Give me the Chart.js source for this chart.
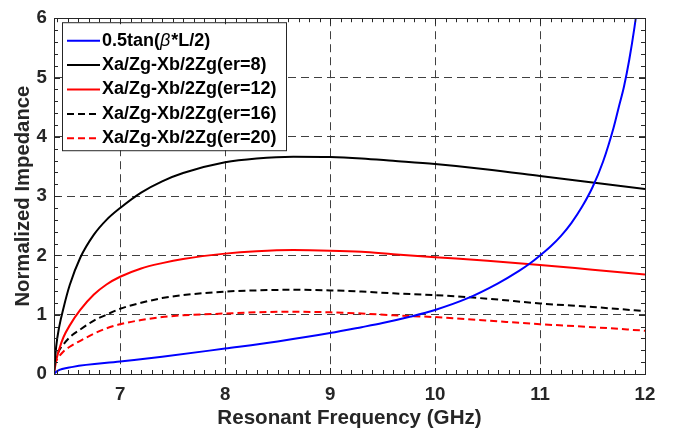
<!DOCTYPE html>
<html>
<head>
<meta charset="utf-8">
<script src="https://cdn.jsdelivr.net/npm/chart.js@4.4.1/dist/chart.umd.min.js"></script>
<style>
  html, body { margin: 0; padding: 0; background: #fff; }
  #wrap { width: 673px; height: 439px; }
</style>
</head>
<body>
<div id="wrap"><canvas id="impChart"></canvas></div>
<script>
// values
const freqTan = [6.37, 6.40, 6.55, 7.0, 7.4, 8.0, 8.5, 9.0, 9.3, 9.5, 9.77, 10.0, 10.3, 10.6, 10.8, 10.9, 11.0, 11.1, 11.2, 11.3, 11.4, 11.5, 11.6, 11.7, 11.75, 11.8, 11.85, 11.9, 11.95];
const valTan = [0.0, 0.05, 0.12, 0.21, 0.29, 0.43, 0.55, 0.69, 0.79, 0.86, 0.97, 1.08, 1.27, 1.53, 1.74, 1.86, 2.0, 2.15, 2.33, 2.55, 2.82, 3.15, 3.58, 4.15, 4.5, 4.85, 5.3, 5.85, 6.5];

const freqEr = [6.37, 6.39, 6.42, 6.46, 6.52, 6.62, 6.75, 6.87, 7.0, 7.2, 7.4, 7.6, 8.0, 8.3, 8.65, 9.0, 9.3, 9.6, 10.0, 10.5, 11.0, 11.5, 12.0];
const er8  = [0.0, 0.45, 0.8, 1.11, 1.5, 1.96, 2.35, 2.6, 2.80, 3.06, 3.25, 3.39, 3.57, 3.635, 3.665, 3.66, 3.635, 3.595, 3.54, 3.45, 3.34, 3.23, 3.12];
const er12 = [0.0, 0.22, 0.42, 0.62, 0.82, 1.08, 1.34, 1.51, 1.64, 1.78, 1.87, 1.94, 2.03, 2.07, 2.09, 2.08, 2.06, 2.02, 1.97, 1.91, 1.84, 1.76, 1.68];
const er16 = [0.18, 0.28, 0.4, 0.5, 0.62, 0.75, 0.9, 1.0, 1.1, 1.2, 1.28, 1.33, 1.39, 1.41, 1.42, 1.41, 1.39, 1.36, 1.33, 1.27, 1.19, 1.13, 1.06];
const er20 = [0.15, 0.22, 0.3, 0.38, 0.46, 0.56, 0.68, 0.77, 0.84, 0.91, 0.96, 0.99, 1.02, 1.04, 1.05, 1.04, 1.02, 0.99, 0.96, 0.9, 0.84, 0.79, 0.73];

const seriesLabels = ['0.5tan(\u03b2*L/2)', 'Xa/Zg-Xb/2Zg(er=8)', 'Xa/Zg-Xb/2Zg(er=12)', 'Xa/Zg-Xb/2Zg(er=16)', 'Xa/Zg-Xb/2Zg(er=20)'];
const xTicks = [7, 8, 9, 10, 11, 12];
const xMin = 6.37, xMax = 12, yMin = 0, yMax = 6;

const FONT = '"Liberation Sans", Arial, sans-serif';
const AXIS = '#262626';

function pts(xs, ys) {
    return xs.map((x, i) => ({ x: x, y: ys[i] }));
}

function series(label, xs, ys, color, dash) {
    return {
        label: label,
        data: pts(xs, ys),
        borderColor: color,
        backgroundColor: color,
        borderWidth: 2,
        borderDash: dash,
        pointRadius: 0,
        fill: false,
        cubicInterpolationMode: 'monotone'
    };
}

// inward minor/major ticks + solid frame, matlab style
const frameTicks = {
    id: 'frameTicks',
    afterDraw(chart) {
        const { ctx, chartArea: a, scales } = chart;
        const xs = scales.x, ys = scales.y;
        ctx.save();
        ctx.strokeStyle = AXIS;
        ctx.lineWidth = 1;
        ctx.setLineDash([]);
        ctx.beginPath();
        for (let k = 64; k <= 120; k++) {
            const px = Math.round(xs.getPixelForValue(k / 10)) + 0.5;
            const len = (k % 10 === 0) ? 6 : 4;
            ctx.moveTo(px, a.bottom); ctx.lineTo(px, a.bottom - len);
            ctx.moveTo(px, a.top); ctx.lineTo(px, a.top + len);
        }
        for (let k = 0; k <= 30; k++) {
            const py = Math.round(ys.getPixelForValue(k / 5)) + 0.5;
            const len = (k % 5 === 0) ? 6 : 4;
            ctx.moveTo(a.left, py); ctx.lineTo(a.left + len, py);
            ctx.moveTo(a.right, py); ctx.lineTo(a.right - len, py);
        }
        ctx.stroke();
        ctx.strokeRect(Math.round(a.left) + 0.5, Math.round(a.top) + 0.5,
            Math.round(a.right - a.left), Math.round(a.bottom - a.top));
        ctx.restore();
    }
};

// boxed legend in the upper left corner of the plot
const boxLegend = {
    id: 'boxLegend',
    afterDatasetsDraw(chart) {
        const { ctx, chartArea: a } = chart;
        const bx = a.left + 8, by = a.top + 4, bw = 224, bh = 128;
        ctx.save();
        ctx.fillStyle = '#fff';
        ctx.fillRect(bx, by, bw, bh);
        ctx.strokeStyle = AXIS;
        ctx.lineWidth = 1;
        ctx.strokeRect(bx + 0.5, by + 0.5, bw, bh);
        chart.data.datasets.forEach((ds, i) => {
            const cy = by + 18.5 + i * 24.4;
            ctx.strokeStyle = ds.borderColor;
            ctx.lineWidth = 2;
            ctx.setLineDash(ds.borderDash || []);
            ctx.beginPath();
            ctx.moveTo(bx + 5, cy);
            ctx.lineTo(bx + 38, cy);
            ctx.stroke();
            ctx.setLineDash([]);
            ctx.fillStyle = '#000';
            ctx.textBaseline = 'middle';
            let tx = bx + 40;
            if (i === 0) {
                // beta drawn in italic, like the tex label
                const parts = [['0.5tan(', 'bold'], ['\u03b2', 'italic'], ['*L/2)', 'bold']];
                parts.forEach(p => {
                    ctx.font = p[1] + ' 18px ' + FONT;
                    ctx.fillText(p[0], tx, cy);
                    tx += ctx.measureText(p[0]).width + (p[1] === 'italic' ? 1 : 0);
                });
            } else {
                ctx.font = 'bold 18px ' + FONT;
                ctx.fillText(ds.label, tx, cy);
            }
        });
        ctx.restore();
    }
};

new Chart(document.getElementById('impChart'), {
    type: 'line',
    data: {
        datasets: [
            series(seriesLabels[0], freqTan, valTan, '#0000ff', []),
            series(seriesLabels[1], freqEr, er8, '#000000', []),
            series(seriesLabels[2], freqEr, er12, '#ff0000', []),
            series(seriesLabels[3], freqEr, er16, '#000000', [7, 4]),
            series(seriesLabels[4], freqEr, er20, '#ff0000', [7, 4])
        ]
    },
    options: {
        responsive: true,
        maintainAspectRatio: false,
        animation: false,
        layout: { padding: { top: 11, right: 28, left: 0, bottom: 0 } },
        plugins: {
            legend: { display: false },
            tooltip: { enabled: false }
        },
        scales: {
            x: {
                type: 'linear',
                min: xMin,
                max: xMax,
                afterBuildTicks: (scale) => { scale.ticks = xTicks.map(v => ({ value: v })); },
                afterFit: (scale) => { scale.height = 65; },
                grid: { color: '#404040', lineWidth: 1, drawTicks: false },
                border: { display: false, dash: [8, 5] },
                ticks: {
                    color: '#262626',
                    padding: 10,
                    maxRotation: 0,
                    font: { family: FONT, size: 18.7, weight: 'bold' }
                },
                title: {
                    display: true,
                    text: 'Resonant Frequency (GHz)',
                    color: '#262626',
                    padding: { top: 0, bottom: 8 },
                    font: { family: FONT, size: 20.6, weight: 'bold' }
                }
            },
            y: {
                min: yMin,
                max: yMax,
                afterFit: (scale) => { scale.width = 54; },
                grid: { color: '#404040', lineWidth: 1, drawTicks: false },
                border: { display: false, dash: [8, 5] },
                ticks: {
                    stepSize: 1,
                    color: '#262626',
                    padding: 7,
                    font: { family: FONT, size: 18.7, weight: 'bold' }
                },
                title: {
                    display: true,
                    text: 'Normalized Impedance',
                    color: '#262626',
                    padding: { top: 11, bottom: 0 },
                    font: { family: FONT, size: 20.3, weight: 'bold' }
                }
            }
        }
    },
    plugins: [frameTicks, boxLegend]
});
</script>
</body>
</html>
